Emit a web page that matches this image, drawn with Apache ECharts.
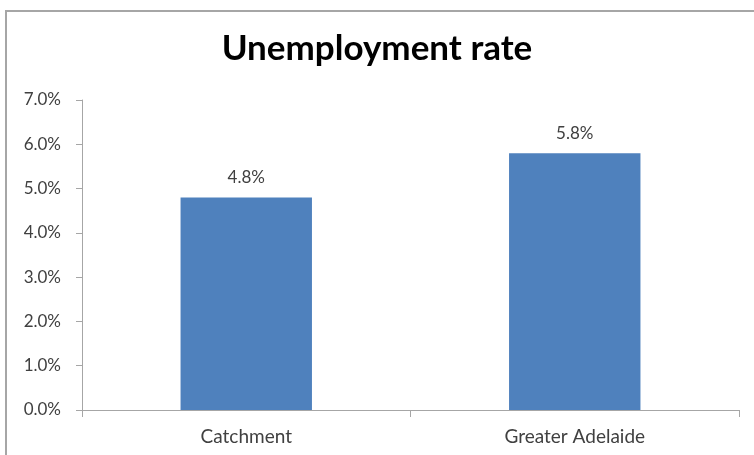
<!DOCTYPE html>
<html>
<head>
<meta charset="utf-8">
<script src="https://cdn.jsdelivr.net/npm/echarts@6/dist/echarts.min.js"></script>
<style>
  html, body { margin: 0; padding: 0; background: #fff; }
  #chart { width: 754px; height: 455px; }
</style>
</head>
<body>
<div id="chart"></div>
<script>
// Unemployment rate by area (%)
const categories = ['Catchment', 'Greater Adelaide'];
const rates = [4.8, 5.8];
const yTicks = [0, 1, 2, 3, 4, 5, 6, 7];

const FONT = 'Lato, "Open Sans", sans-serif';
const chart = echarts.init(document.getElementById('chart'), null, { renderer: 'canvas' });

chart.setOption({
  animation: false,
  backgroundColor: '#ffffff',
  title: {
    text: 'Unemployment rate',
    left: 'center',
    top: 26,
    textStyle: { fontFamily: FONT, fontSize: 35, fontWeight: 'bold', color: '#000000' }
  },
  graphic: [{
    type: 'rect',
    shape: { x: 6, y: 11, width: 760, height: 460 },
    style: { fill: 'none', stroke: '#a6a6a6', lineWidth: 2 },
    silent: true
  }],
  grid: { left: 82, right: 15, top: 100, bottom: 45 },
  xAxis: {
    type: 'category',
    data: categories,
    axisLine: { lineStyle: { color: '#a6a6a6', width: 1 } },
    axisTick: { show: true, alignWithLabel: false, length: 7, lineStyle: { color: '#a6a6a6' } },
    axisLabel: { fontFamily: FONT, fontSize: 19, color: '#404040', margin: 17 }
  },
  yAxis: {
    type: 'value',
    min: yTicks[0],
    max: yTicks[yTicks.length - 1],
    interval: 1,
    splitLine: { show: false },
    axisLine: { show: true, lineStyle: { color: '#a6a6a6', width: 1 } },
    axisTick: { show: true, inside: false, length: 6, lineStyle: { color: '#a6a6a6' } },
    axisLabel: {
      fontFamily: FONT, fontSize: 17, color: '#404040', margin: 21,
      formatter: v => v.toFixed(1) + '%'
    }
  },
  series: [{
    type: 'bar',
    data: rates,
    barWidth: '40%',
    itemStyle: { color: '#4f81bd' },
    label: {
      show: true,
      position: 'top',
      distance: 11,
      fontFamily: FONT,
      fontSize: 17,
      color: '#404040',
      formatter: p => p.value.toFixed(1) + '%'
    }
  }]
});
</script>
</body>
</html>
